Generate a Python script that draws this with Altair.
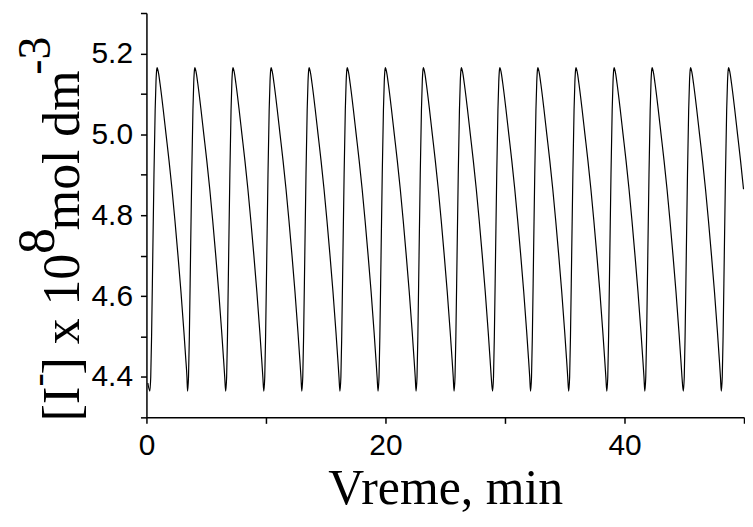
import altair as alt
import pandas as pd

# ---- data ----
# times (min) of the 16 maxima
peak_times = [0.89, 4.05, 7.24, 10.43, 13.61, 16.80, 19.99, 23.17,
              26.35, 29.57, 32.75, 35.94, 39.13, 42.31, 45.53, 48.71]
# decaying branch after each maximum: time after peak, value
fall_offsets = [0.0, 0.1, 0.25, 0.5, 0.75, 1.0, 1.25, 1.5, 1.75, 2.0, 2.25, 2.4, 2.5]
fall_values = [5.165, 5.155, 5.125, 5.065, 5.0, 4.935, 4.864, 4.785, 4.70, 4.61, 4.51, 4.445, 4.40]
# rising branch before each maximum: time before peak, value
rise_before = [0.61, 0.53, 0.46, 0.36, 0.26, 0.16, 0.09, 0.03]
rise_values = [4.365, 4.40, 4.50, 4.70, 4.90, 5.06, 5.13, 5.16]
# very beginning of the record
start_times = [0.12]
start_values = [4.385]
end_time = 50.0

# ---- build the table ----
rows = []
for t, v in zip(start_times, start_values):
    rows.append((t, v))
for i, p in enumerate(peak_times):
    for off, v in zip(rise_before, rise_values):
        rows.append((round(p - off, 3), v))
    for off, v in zip(fall_offsets, fall_values):
        t = round(p + off, 3)
        if i + 1 < len(peak_times) and t >= peak_times[i + 1] - rise_before[0]:
            break
        if t > end_time:
            break
        rows.append((t, v))
df = pd.DataFrame(rows, columns=["t", "c"])

x_ticks = [0, 10, 20, 30, 40, 50]
y_ticks = [4.3, 4.4, 4.5, 4.6, 4.7, 4.8, 4.9, 5.0, 5.1, 5.2, 5.3]

line = alt.Chart(df).mark_line(color="black", strokeWidth=1.2, interpolate="monotone").encode(
    x=alt.X("t:Q", scale=alt.Scale(domain=[0, 50], nice=False, zero=False),
            axis=alt.Axis(values=x_ticks, title="Vreme, min",
                          labelExpr="datum.value % 20 == 0 ? datum.label : ''",
                          labelFlush=False, labelOverlap=False, labelPadding=7,
                          titleFont="Liberation Serif", titleFontSize=50,
                          titleFontWeight="normal", titleColor="black",
                          titlePadding=3)),
    y=alt.Y("c:Q", scale=alt.Scale(domain=[4.3, 5.3], nice=False, zero=False),
            axis=alt.Axis(values=y_ticks, title=None,
                          labelExpr="round(datum.value*10) % 2 == 0 ? format(datum.value, '.1f') : ''",
                          labelOverlap=False, labelPadding=8)),
)

# y-axis title pieces (rotated text, superscripts raised)
title_pieces = [
    # text, font size, x (px rel. plot), y (px rel. plot)
    ("[I", 52, -68, 410),
    ("-", 40, -96, 375),
    ("] x 10", 52, -68, 363),
    ("8", 52, -93, 242),
    ("mol dm", 52, -68, 218),
    ("-3", 46, -97, 62),
]
layers = [line]
for txt, fs, px, py in title_pieces:
    layers.append(
        alt.Chart(pd.DataFrame({"s": [txt]})).mark_text(
            angle=270, align="left", baseline="alphabetic",
            font="Liberation Serif", fontSize=fs, color="black"
        ).encode(text="s:N", x=alt.value(px), y=alt.value(py))
    )

chart = alt.layer(*layers).properties(
    width=600, height=406,
    padding={"left": 139, "top": 4, "right": 1, "bottom": 97},
    autosize=alt.AutoSizeParams(type="none"),
).configure_view(stroke="transparent").configure_axis(
    grid=False, domainColor="black", domainWidth=1.5, tickColor="black",
    tickWidth=1.5, tickSize=6, labelFont="Liberation Sans", labelFontSize=30,
    labelColor="black",
)

chart.save("out.html", embed_options={"renderer": "svg", "actions": False})
